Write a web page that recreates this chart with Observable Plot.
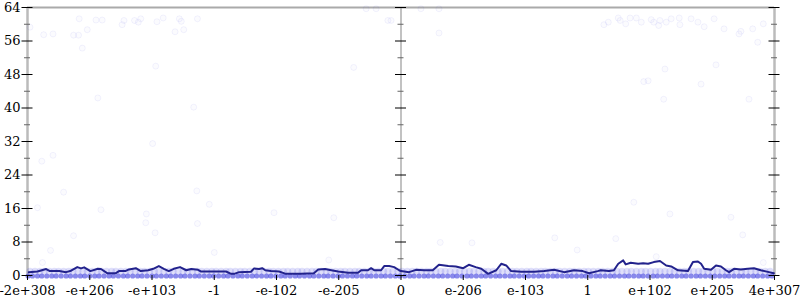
<!DOCTYPE html>
<html><head><meta charset="utf-8">
<script src="https://cdn.jsdelivr.net/npm/d3@7"></script>
<script src="https://cdn.jsdelivr.net/npm/@observablehq/plot@0.6"></script>
<style>body{margin:0;background:#fff}</style>
</head><body><div id="chart"></div>
<script>
// x positions are in "tick steps" along the ordered float line (0 = zero)
const xTicks = [-6,-5,-4,-3,-2,-1,0,1,2,3,4,5,6];
const xLabels = ["-2e+308","-e+206","-e+103","-1","-e-102","-e-205","0","e-206","e-103","1","e+102","e+205","4e+307"];
const yMajor = [0,8,16,24,32,40,48,56,64];
const yMinor = [4,12,20,28,36,44,52,60];

// rolling average line
const lineX = [-5.98,-5.84,-5.70,-5.64,-5.49,-5.38,-5.30,-5.20,-5.14,-5.09,-4.99,-4.87,-4.82,-4.72,-4.58,-4.53,-4.43,-4.37,-4.26,-4.18,-4.06,-3.98,-3.89,-3.81,-3.73,-3.65,-3.55,-3.45,-3.37,-3.26,-3.21,-3.00,-2.81,-2.73,-2.68,-2.60,-2.41,-2.36,-2.28,-2.23,-2.18,-2.09,-1.96,-1.85,-1.61,-1.40,-1.33,-1.22,-1.12,-1.01,-0.85,-0.69,-0.64,-0.53,-0.48,-0.43,-0.32,-0.27,-0.19,-0.11,-0.03,0,0.13,0.24,0.37,0.51,0.61,0.76,0.88,1.00,1.09,1.20,1.29,1.40,1.53,1.61,1.69,1.77,1.93,2.14,2.30,2.46,2.62,2.78,2.92,3.02,3.16,3.21,3.34,3.42,3.49,3.57,3.61,3.69,3.81,3.89,3.97,4.06,4.16,4.26,4.34,4.45,4.61,4.69,4.77,4.82,4.87,4.98,5.06,5.14,5.22,5.27,5.35,5.46,5.57,5.67,5.78,5.91,5.99];
const lineY = [0.8,0.95,1.55,1.05,1.05,0.8,1.15,2.0,1.7,1.95,1.05,1.6,1.55,0.55,0.55,1.05,1.05,1.45,1.75,1.05,1.25,1.6,2.25,1.6,1.05,1.6,2.0,1.25,1.55,1.35,0.95,0.95,0.95,0.4,0.4,0.8,0.9,1.7,1.55,1.75,1.25,1.05,0.95,0.4,0.4,0.55,1.45,1.55,1.25,0.95,0.65,0.65,1.25,1.25,1.75,1.25,1.25,2.25,2.25,2.0,1.25,1.05,0.8,1.35,1.25,1.25,2.55,2.25,2.15,1.75,2.55,2.0,1.6,0.4,1.25,2.8,2.4,1.05,0.9,0.9,1.05,1.35,0.8,1.25,1.05,0.55,1.05,1.25,1.05,1.25,2.8,3.6,2.65,3.05,2.8,2.95,2.8,3.2,3.45,2.4,2.15,1.25,1.05,3.2,3.35,2.8,1.6,1.35,2.4,2.15,1.25,0.8,1.6,1.45,1.6,1.75,1.25,0.8,0.55];

// scattered individual values (faint)
const scatterX = [-5.96,-5.74,-5.59,-5.26,-5.18,-5.17,-5.12,-5.04,-4.90,-4.80,-4.87,-4.48,-4.45,-4.28,-4.22,-4.18,-3.94,-3.92,-3.82,-3.63,-3.56,-3.53,-3.49,-3.27,-0.56,-0.40,-0.21,-0.16,0.32,0.61,0.61,-0.76,3.26,3.33,3.49,3.52,3.61,3.68,3.78,3.86,4.02,4.06,4.14,4.16,4.26,4.34,4.47,4.48,4.66,4.77,4.87,5.03,5.19,5.43,5.46,5.65,5.73,5.82,5.06,4.24,3.90,3.97,4.82,4.22,5.59,-5.77,-5.59,-5.42,-3.99,-3.33,-3.28,-5.84,-4.82,-4.09,-4.10,-3.27,-5.26,-5.63,-5.76,-3.95,-3.08,-2.04,-1.08,-3.00,-1.16,0.63,1.14,2.47,2.83,3.74,4.32,5.30,3.45,4.10,5.49,5.82];
const scatterY = [59.3,57.5,57.7,57.4,57.4,61.3,54.3,58.7,61.0,61.0,42.4,59.9,60.9,60.9,60.5,61.3,50.0,60.6,61.5,58.2,61.3,60.7,58.7,61.3,63.7,63.7,60.9,60.9,63.7,63.7,57.9,49.7,59.9,60.5,61.5,60.9,60.1,61.5,61.5,60.5,61.1,60.5,59.7,60.9,60.5,61.3,61.5,59.9,61.3,60.5,59.4,61.3,58.9,57.7,58.3,58.9,55.7,60.1,50.3,49.3,46.3,46.5,45.7,42.1,42.1,27.3,28.7,19.9,31.5,40.2,20.2,16.2,15.7,14.7,12.6,12.4,9.5,6.0,3.1,10.2,17.0,15.0,13.8,5.5,3.7,7.9,7.8,9.0,6.1,17.5,14.7,13.9,8.8,4.5,9.7,3.1];

// dense rows of values at 0 and 1
const row0X = [-5.99,-5.92,-5.84,-5.77,-5.69,-5.61,-5.54,-5.46,-5.38,-5.31,-5.23,-5.15,-5.08,-5.00,-4.92,-4.85,-4.77,-4.69,-4.62,-4.54,-4.46,-4.39,-4.31,-4.23,-4.16,-4.08,-4.00,-3.93,-3.85,-3.77,-3.70,-3.62,-3.54,-3.47,-3.39,-3.31,-3.24,-3.16,-3.08,-3.01,-2.93,-2.85,-2.78,-2.70,-2.62,-2.55,-2.47,-2.39,-2.32,-2.24,-2.16,-2.09,-2.01,-1.93,-1.86,-1.78,-1.70,-1.63,-1.55,-1.47,-1.40,-1.32,-1.24,-1.17,-1.09,-1.01,-0.94,-0.86,-0.78,-0.71,-0.63,-0.55,-0.48,-0.40,-0.32,-0.25,-0.17,-0.09,-0.02,0.06,0.14,0.21,0.29,0.37,0.44,0.52,0.60,0.67,0.75,0.83,0.90,0.98,1.06,1.13,1.21,1.29,1.36,1.44,1.52,1.59,1.67,1.75,1.82,1.90,1.98,2.05,2.13,2.21,2.28,2.36,2.44,2.51,2.59,2.67,2.74,2.82,2.90,2.97,3.05,3.13,3.20,3.28,3.36,3.43,3.51,3.59,3.66,3.74,3.82,3.89,3.97,4.05,4.12,4.20,4.28,4.35,4.43,4.51,4.58,4.66,4.74,4.81,4.89,4.97,5.04,5.12,5.20,5.27,5.35,5.43,5.50,5.58,5.66,5.73,5.81,5.89,5.96];
const row1X = [-5.96,-5.88,-5.80,-5.73,-5.65,-5.57,-5.50,-5.42,-5.34,-5.27,-5.19,-5.11,-5.04,-4.96,-4.88,-4.81,-4.73,-4.65,-4.58,-4.50,-4.42,-4.35,-4.27,-4.19,-4.12,-4.04,-3.96,-3.89,-3.81,-3.73,-3.66,-3.58,-3.50,-3.43,-3.35,-3.27,-3.20,-3.12,-3.04,-2.97,-2.89,-2.81,-2.74,-2.66,-2.58,-2.51,-2.43,-2.35,-2.28,-2.20,-2.12,-2.05,-1.97,-1.89,-1.82,-1.74,-1.66,-1.59,-1.51,-1.43,-1.36,-1.28,-1.20,-1.13,-1.05,-0.97,-0.90,-0.82,-0.74,-0.67,-0.59,-0.51,-0.44,-0.36,-0.28,-0.21,-0.13,-0.05,0.02,0.10,0.18,0.25,0.33,0.41,0.48,0.56,0.64,0.71,0.79,0.87,0.94,1.02,1.10,1.17,1.25,1.33,1.40,1.48,1.56,1.63,1.71,1.79,1.86,1.94,2.02,2.09,2.17,2.25,2.32,2.40,2.48,2.55,2.63,2.71,2.78,2.86,2.94,3.01,3.09,3.17,3.24,3.32,3.40,3.47,3.55,3.63,3.70,3.78,3.86,3.93,4.01,4.09,4.16,4.24,4.32,4.39,4.47,4.55,4.62,4.70,4.78,4.85,4.93,5.01,5.08,5.16,5.24,5.31,5.39,5.47,5.54,5.62,5.70,5.77,5.85,5.93];
const row0Value = 0;
const row1Value = 1;

const line = lineX.map((x, i) => ({x, y: lineY[i]}));
const scatter = scatterX.map((x, i) => ({x, y: scatterY[i]}));
const row0 = row0X.map(x => ({x, y: row0Value}));
const row1 = row1X.map(x => ({x, y: row1Value}));

const blue = "#3a3ade";
const tickMarks = (xv) => [
  Plot.ruleY(yMajor, {y: d => d, x1: xv, x2: xv, insetLeft: -5.5, insetRight: -5.5, stroke: "#000", strokeWidth: 1}),
  Plot.ruleY(yMinor, {y: d => d, x1: xv, x2: xv, insetLeft: -3, insetRight: -3, stroke: "#666", strokeWidth: 1})
];

const chart = Plot.plot({
  width: 800, height: 300,
  marginLeft: 27, marginRight: 26, marginTop: 7, marginBottom: 25,
  style: {fontFamily: "'DejaVu Serif', serif", fontSize: "13px", background: "white", color: "black"},
  x: {domain: [-6, 6]},
  y: {domain: [0, 64]},
  marks: [
    Plot.ruleY([64], {stroke: "#aaa", strokeWidth: 2}),
    Plot.ruleX([-6, 6], {stroke: "#bbb", strokeWidth: 2.5}),
    Plot.ruleX([0], {stroke: "#999", strokeWidth: 1.2}),
    Plot.dot(scatter, {x: "x", y: "y", r: 3, fill: blue, fillOpacity: 0.02, stroke: blue, strokeOpacity: 0.06, strokeWidth: 1}),
    Plot.dot(row1, {x: "x", y: "y", r: 3.5, fill: blue, fillOpacity: 0.16, stroke: "none"}),
    Plot.dot(row0, {x: "x", y: "y", r: 2.6, dy: 0.5, fill: blue, fillOpacity: 0.6, stroke: "none"}),
    Plot.line(line, {x: "x", y: "y", stroke: "#22228c", strokeWidth: 2}),
    ...tickMarks(-6), ...tickMarks(0), ...tickMarks(6),
    Plot.axisX({ticks: xTicks, tickFormat: (d, i) => xLabels[xTicks.indexOf(d)], tickSize: 5, tickPadding: 5, label: null, fontSize: 13, stroke: "#000"}),
    Plot.axisY({ticks: yMajor, tickSize: 0, tickPadding: 7, label: null, fontSize: 13})
  ]
});
document.getElementById("chart").appendChild(chart);
</script>
</body></html>
